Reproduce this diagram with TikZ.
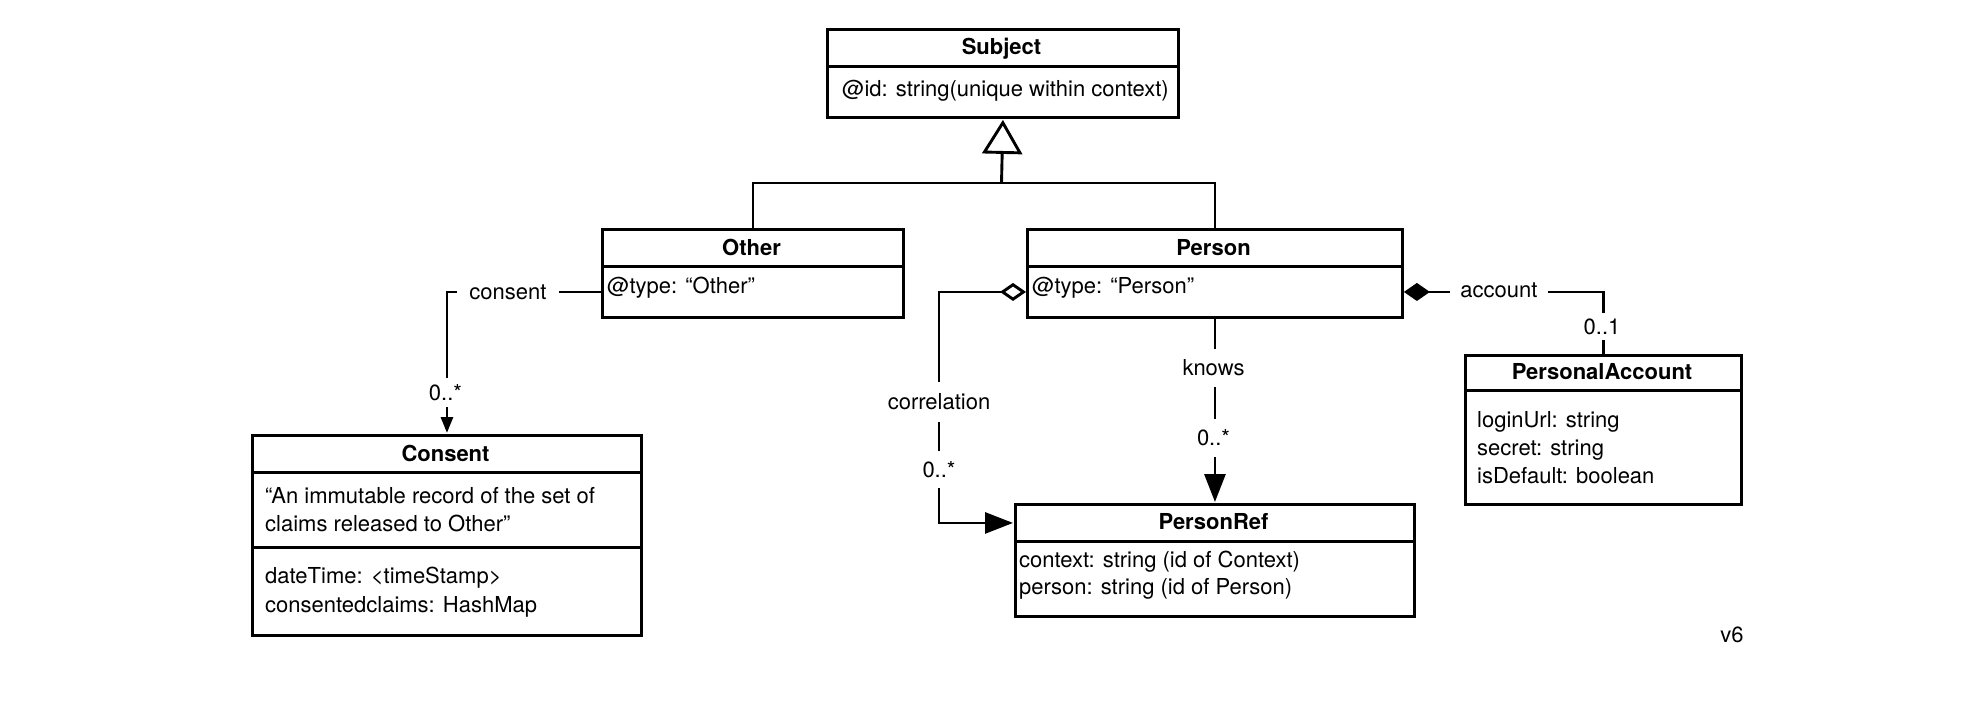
\documentclass[tikz,border=0pt]{standalone}
\usepackage{fontspec}
\setmainfont{TeX Gyre Heros}
\usetikzlibrary{arrows.meta}
\begin{document}
\begin{tikzpicture}[x=1pt,y=-1pt,
  cls/.style={draw, line width=2.9pt, rectangle, inner sep=0pt, anchor=north west},
  ttl/.style={font=\fontsize{22}{28}\selectfont\bfseries, inner sep=0pt, anchor=base},
  txt/.style={font=\fontsize{22}{28}\selectfont, inner sep=0pt, anchor=base west},
  conn/.style={line width=2.9pt},
  elbl/.style={font=\fontsize{22}{28}\selectfont, fill=white, inner sep=0pt},
  bigtip/.style={-{Triangle[length=28pt,width=21pt]}}
]
\useasboundingbox (0,0) rectangle (1977,711);

% Subject
\node[cls, minimum width=351pt, minimum height=37pt] (subjH) at (826,28) {};
\node[cls, minimum width=351pt, minimum height=51pt] (subjA) at (826,65) {};
\node[ttl] (subjT) at (1001.5,55) {Subject};
\node[txt] (subjL1) at (842,97) {@id: string(unique within context)};

% Other
\node[cls, minimum width=301pt, minimum height=37pt] (othH) at (601,228) {};
\node[cls, minimum width=301pt, minimum height=51pt] (othA) at (601,265) {};
\node[ttl] (othT) at (751.5,255) {Other};
\node[txt] (othL1) at (607,293) {@type: “Other”};

% Person
\node[cls, minimum width=375pt, minimum height=37pt] (perH) at (1026,228) {};
\node[cls, minimum width=375pt, minimum height=51pt] (perA) at (1026,265) {};
\node[ttl] (perT) at (1213.5,255) {Person};
\node[txt] (perL1) at (1032,293) {@type: “Person”};

% Consent
\node[cls, minimum width=389pt, minimum height=37pt] (consH) at (251,434) {};
\node[cls, minimum width=389pt, minimum height=75pt] (consD) at (251,471) {};
\node[cls, minimum width=389pt, minimum height=88pt] (consA) at (251,546) {};
\node[ttl] (consT) at (445.5,461) {Consent};
\node[txt] (consL1) at (265,503) {“An immutable record of the set of};
\node[txt] (consL2) at (265,531) {claims released to Other”};
\node[txt] (consL3) at (265,583) {dateTime: <timeStamp>};
\node[txt] (consL4) at (265,612) {consentedclaims: HashMap};

% PersonRef
\node[cls, minimum width=399pt, minimum height=37pt] (prH) at (1014,503) {};
\node[cls, minimum width=399pt, minimum height=75pt] (prA) at (1014,540) {};
\node[ttl] (prT) at (1213.5,529) {PersonRef};
\node[txt] (prL1) at (1019,567) {context: string (id of Context)};
\node[txt] (prL2) at (1019,594) {person: string (id of Person)};

% PersonalAccount
\node[cls, minimum width=276pt, minimum height=35pt] (paH) at (1464,354) {};
\node[cls, minimum width=276pt, minimum height=114pt] (paA) at (1464,389) {};
\node[ttl] (paT) at (1602,379) {PersonalAccount};
\node[txt] (paL1) at (1477,427) {loginUrl: string};
\node[txt] (paL2) at (1477,455) {secret: string};
\node[txt] (paL3) at (1477,483) {isDefault: boolean};

\node[txt, anchor=base] (ver) at (1732,642) {v6};

% generalization
\coordinate (genJ) at (1001.5,183);
\draw[conn] (othH.north) |- (genJ) -| (perH.north);
\draw[conn, -{Triangle[open,length=34pt,width=40pt]}, shorten >=1pt] (genJ) -- (subjA.south);

% consent
\draw[conn, -{Triangle[length=16pt,width=12pt]}, shorten >=1pt] (othA.west) -| (consH.north);

% correlation
\coordinate (corrX) at (939,0);
\draw[conn, {Diamond[open,length=26pt,width=18pt]}-{Triangle[length=28pt,width=21pt]}, shorten >=1pt]
  (perA.west) -| (corrX |- prH.west) -- (prH.west);

% knows
\draw[conn, bigtip, shorten >=1pt] (perA.south) -- (prH.north);

% account
\draw[conn, {Diamond[length=26pt,width=18pt]}-] (perA.east) -| (paH.north);

% labels
\node[elbl, minimum width=102pt, inner ysep=3pt, anchor=base] (lConsent) at (508,299) {consent};
\node[elbl, minimum width=98pt, inner ysep=3pt, anchor=base] (lAccount) at (1499,298) {account};
\node[elbl, minimum height=29pt] (lConsM) at (445.5,392.5) {0..*};
\node[elbl, minimum height=40pt] (lCorr) at (939,402) {correlation};
\node[elbl, minimum height=37pt] (lCorrM) at (939,469.5) {0..*};
\node[elbl, minimum height=38pt] (lKnows) at (1213.5,368) {knows};
\node[elbl, minimum height=38pt] (lKnowsM) at (1213.5,438) {0..*};
\node[elbl, minimum height=27pt] (lAccM) at (1602,326.5) {0..1};
\end{tikzpicture}
\end{document}
